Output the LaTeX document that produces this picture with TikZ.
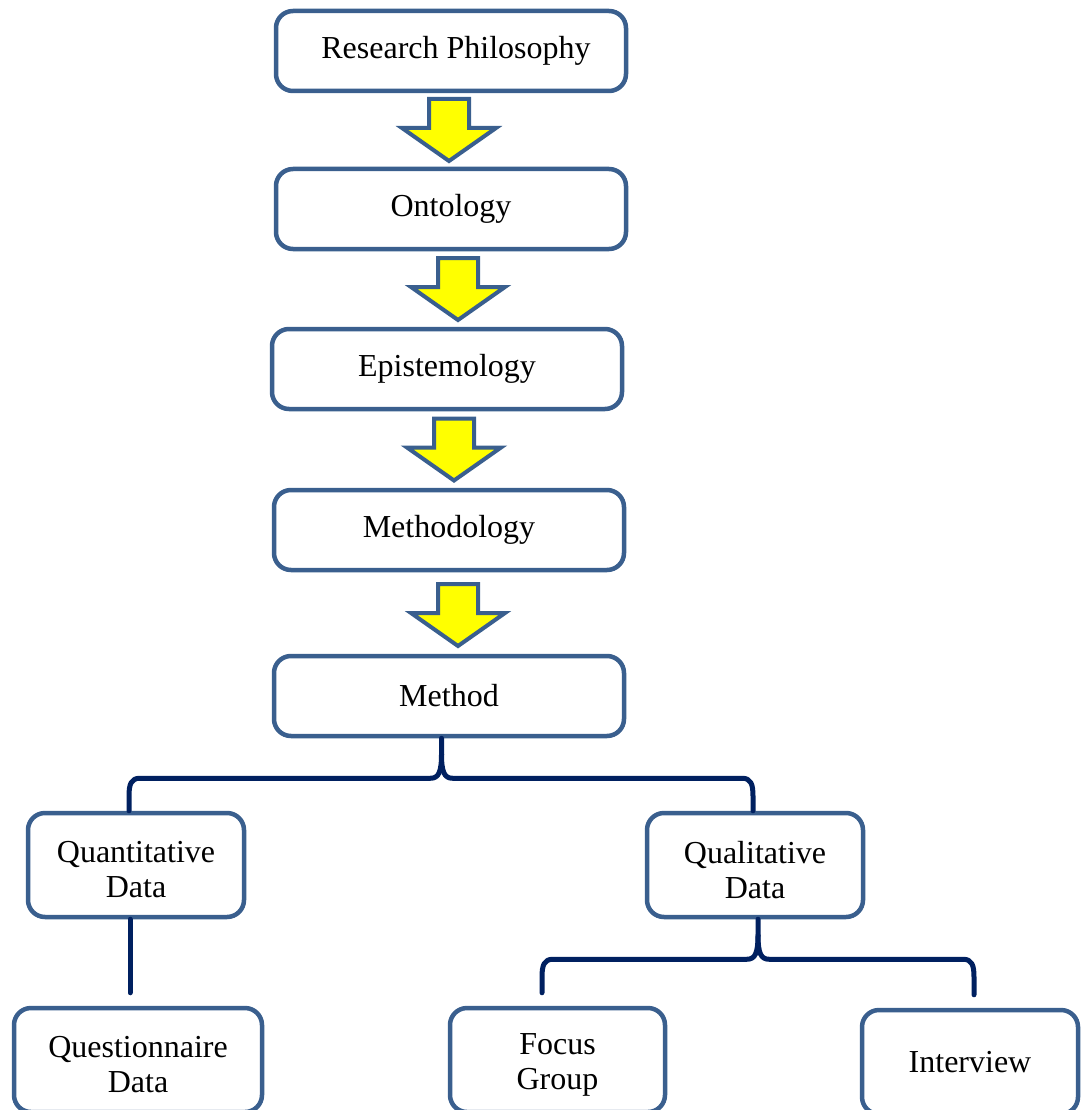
\documentclass[tikz,border=0pt]{standalone}
\usepackage{fontspec}
\setmainfont{Liberation Serif}
\usetikzlibrary{calc}
\definecolor{boxline}{HTML}{3A5F8E}
\definecolor{bracecol}{HTML}{002060}
\definecolor{arrowfill}{HTML}{FFFF00}
\tikzset{
  stage/.style={draw=boxline, line width=4.5pt, rounded corners=17pt, fill=white,
    minimum width=350pt, minimum height=80pt, inner sep=0pt,
    font=\fontsize{32}{35}\selectfont, align=center},
  leaf/.style={stage, minimum width=216pt, minimum height=104pt},
  % two-line caption set a little below the box centre
  lowtext/.style={label={[font=\fontsize{32}{35}\selectfont, align=center,
    inner sep=0pt, yshift=-5pt]center:#1}},
  brace/.style={draw=bracecol, line width=5pt, line cap=round, line join=round},
  flowarrow/.pic={
    \draw[draw=boxline, line width=4pt, fill=arrowfill, line join=miter]
      (-20,-31) -- (20,-31) -- (20,-2) -- (47,-2) -- (0,31) -- (-47,-2) -- (-20,-2) -- cycle;}
}
\begin{document}
\begin{tikzpicture}[x=1pt, y=-1pt]
  \useasboundingbox (0,0) rectangle (1083,1110);
  \clip (0,0) rectangle (1083,1110);

  % main chain of stages
  \node[stage] (rp) at (451,51)  {\hspace*{10pt}Research Philosophy};
  \node[stage] (on) at (451,209) {Ontology};
  \node[stage] (ep) at (447,369) {Epistemology};
  \node[stage] (me) at (449,530) {Methodology};
  \node[stage] (md) at (449,696) {Method};

  % data branches
  \node[leaf, lowtext={Quantitative\\Data}] (quant) at (136,865) {};
  \node[leaf, lowtext={Qualitative\\Data}]  (qual)  at (755,865) {};
  \node[leaf, minimum width=248pt, lowtext={Questionnaire\\Data}] (quest) at (138,1060) {};
  \node[leaf, minimum width=215pt, lowtext={Focus\\Group}]        (fg)    at (557.5,1060) {};
  \node[leaf] (iv) at (970,1062) {Interview};

  % block arrows between stages
  \path ($(rp.south)!0.5!(on.north)$) ++(-2,0) pic {flowarrow};
  \path ($(on.south)!0.5!(ep.north)$) ++(9,0)  pic {flowarrow};
  \path ($(ep.south)!0.5!(me.north)$) ++(6,0)  pic {flowarrow};
  \path ($(me.south)!0.5!(md.north)$) ++(9,2)  pic {flowarrow};

  % brace under Method
  \coordinate (s1) at ($(md.south)+(-7.5,0)$);
  \coordinate (k1) at ($(s1)+(0,40)$);
  \coordinate (l1) at ($(quant.north)+(-7,0)$);
  \coordinate (r1) at ($(qual.north)+(-2,0)$);
  \coordinate (c1L) at (l1 |- k1);
  \coordinate (c1R) at (r1 |- k1);
  \draw[brace] (s1) -- ($(s1)+(0,16)$)
    .. controls ($(s1)+(0,34)$) and ($(k1)+(-3,0)$) .. ($(k1)+(-11,0)$)
    -- ($(c1L)+(11,0)$)
    .. controls ($(c1L)+(2,0)$) and ($(c1L)+(0,6)$) .. ($(c1L)+(0,18)$) -- (l1);
  \draw[brace] ($(s1)+(0,16)$)
    .. controls ($(s1)+(0,34)$) and ($(k1)+(3,0)$) .. ($(k1)+(11,0)$)
    -- ($(c1R)+(-11,0)$)
    .. controls ($(c1R)+(-2,0)$) and ($(c1R)+(0,6)$) .. ($(c1R)+(0,18)$) -- (r1);

  % line from quantitative data to questionnaire data
  \coordinate (q2) at ($(quest.north)+(-8,-13)$);
  \draw[brace] ($(quant.south)+(-6,0)$) -- (q2);

  % brace under qualitative data
  \coordinate (s2) at ($(qual.south)+(3,0)$);
  \coordinate (k2) at ($(s2)+(0,40)$);
  \coordinate (l2) at ($(fg.north)+(-15.5,-13)$);
  \coordinate (r2) at ($(iv.north)+(4,-13)$);
  \coordinate (c2L) at (l2 |- k2);
  \coordinate (c2R) at (r2 |- k2);
  \draw[brace] (s2) -- ($(s2)+(0,16)$)
    .. controls ($(s2)+(0,34)$) and ($(k2)+(-3,0)$) .. ($(k2)+(-11,0)$)
    -- ($(c2L)+(11,0)$)
    .. controls ($(c2L)+(2,0)$) and ($(c2L)+(0,6)$) .. ($(c2L)+(0,18)$) -- (l2);
  \draw[brace] ($(s2)+(0,16)$)
    .. controls ($(s2)+(0,34)$) and ($(k2)+(3,0)$) .. ($(k2)+(11,0)$)
    -- ($(c2R)+(-11,0)$)
    .. controls ($(c2R)+(-2,0)$) and ($(c2R)+(0,6)$) .. ($(c2R)+(0,18)$) -- (r2);
\end{tikzpicture}
\end{document}
